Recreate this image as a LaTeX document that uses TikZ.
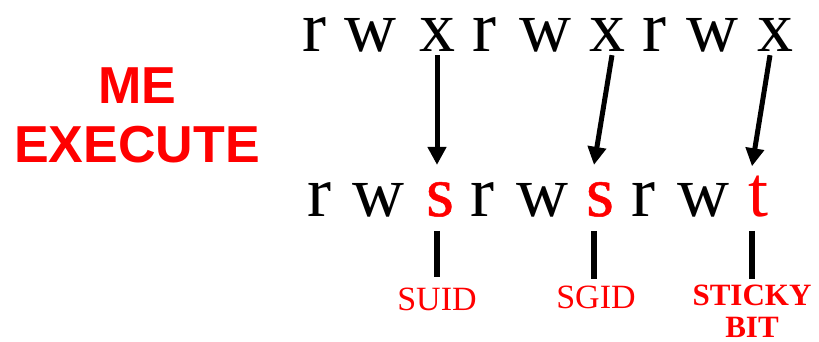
\documentclass[tikz,border=0pt]{standalone}
\usepackage{fontspec}
\setmainfont{Liberation Serif}
\newfontfamily\headfont{Liberation Sans}
\newfontfamily\heavyserif[FakeBold=0.7]{Liberation Serif}
\usetikzlibrary{arrows.meta,calc}
\definecolor{pred}{RGB}{255,0,0}
\tikzset{
  bit/.style={inner sep=0pt, anchor=base, font=\fontsize{72}{80}\selectfont},
  flag/.style={bit, text=pred},
  heavyflag/.style={flag, font=\heavyserif\fontsize{72}{80}\selectfont},
  tag/.style={inner sep=0pt, anchor=base, text=pred, font=\fontsize{34}{38}\selectfont},
  boldtag/.style={inner sep=0pt, anchor=base, text=pred, align=center,
    font=\fontsize{31}{32}\bfseries\selectfont},
  arr/.style={line width=5pt, -{Triangle[length=18pt,width=18pt]}},
  bar/.style={line width=6pt},
}
\begin{document}
\begin{tikzpicture}[x=1pt,y=-1pt]
\useasboundingbox (0,0) rectangle (819,341);

% heading (base anchor sits on the last line)
\node[inner sep=0pt, anchor=base, align=center, text=pred,
      font=\headfont\fontsize{52}{59}\bfseries\selectfont] (head) at (137,162) {ME\\EXECUTE};

% plain permission string
\node[bit] (r1) at (314,51) {r};
\node[bit] (w1) at (370,51) {w};
\node[bit] (x1) at (437,51) {x};
\node[bit] (r2) at (484,51) {r};
\node[bit] (w2) at (545,51) {w};
\node[bit] (x2) at (607,51) {x};
\node[bit] (r3) at (654,51) {r};
\node[bit] (w3) at (712,51) {w};
\node[bit] (x3) at (775,51) {x};

% string with special bits
\node[bit]       (q1) at (319,216) {r};
\node[bit]       (v1) at (378,216) {w};
\node[heavyflag] (s1) at (440,216) {s};
\node[bit]       (q2) at (482,216) {r};
\node[bit]       (v2) at (542,216) {w};
\node[heavyflag] (s2) at (600,216) {s};
\node[bit]       (q3) at (643,216) {r};
\node[bit]       (v3) at (703,216) {w};
\node[flag]      (t1) at (758,216) {t};

% names of the special bits
\node[tag] (suid) at (437,310) {SUID};
\node[tag] (sgid) at (596,308) {SGID};
\node[boldtag] (sticky) at (752,337) {STICKY\\BIT};

% execute bits turned into special bits
\draw[arr] ($(x1.south)+(0,4)$) -- ($(s1.north)+(-3,-17)$);
\draw[arr] ($(x2.south)+(5,4)$) -- ($(s2.north)+(-6,-17)$);
\draw[arr] ($(x3.south)+(-5,4)$) -- ($(t1.north)+(-6,-9)$);

% ticks down to the names
\draw[bar] ($(s1.south -| suid.north)+(0,14)$) -- ($(suid.north)+(0,-10)$);
\draw[bar] ($(s2.south)+(-6,14)$) -- ($(s2.south)+(-6,62)$);
\draw[bar] ($(t1.south -| sticky.north)+(0,14)$) -- ($(t1.south -| sticky.north)+(0,62)$);
\end{tikzpicture}
\end{document}
